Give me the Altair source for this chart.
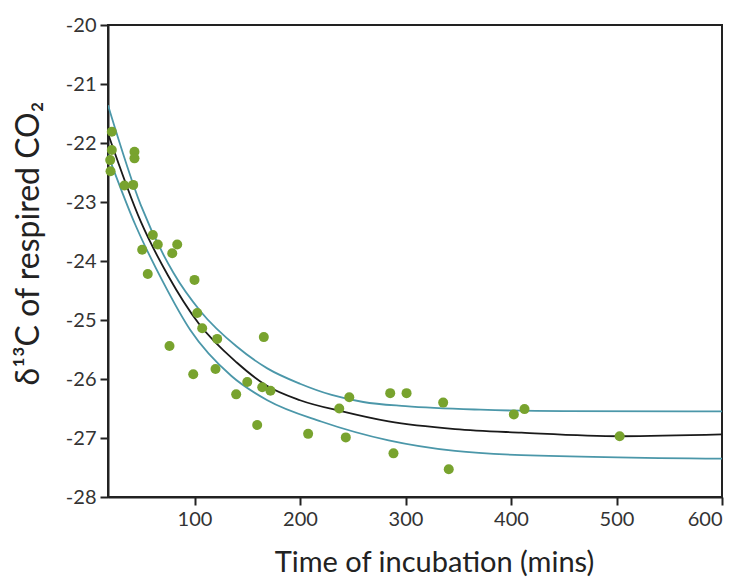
import altair as alt
import pandas as pd

# Observed data points (time in minutes, delta13C)
obs_time = [21.6, 21.6, 20.1, 20.4, 43.1, 43.1, 33.6, 41.9,
            60.5, 65.2, 50.4, 83.6, 78.9, 55.7, 100.0, 102.6, 107.3,
            121.5, 165.7, 119.9, 150.0, 164.2, 172.0, 139.5,
            76.3, 98.8, 159.4, 207.7, 237.2, 246.7, 243.4, 285.5, 288.6,
            301.0, 335.7, 341.0, 402.7, 412.8, 503.0]
obs_d13c = [-21.81, -22.12, -22.29, -22.48, -22.15, -22.26, -22.72, -22.71,
            -23.56, -23.72, -23.81, -23.72, -23.87, -24.22, -24.32, -24.88, -25.14,
            -25.32, -25.29, -25.83, -26.05, -26.14, -26.20, -26.26,
            -25.44, -25.92, -26.78, -26.93, -26.50, -26.31, -26.99, -26.24, -27.26,
            -26.24, -26.40, -27.53, -26.60, -26.51, -26.97]

# Fitted curve (black)
fit_time = [18, 49, 75, 104, 140, 169, 200, 240, 284, 347, 410, 504, 600]
fit_d13c = [-21.84, -23.33, -24.25, -25.06, -25.72, -26.12, -26.36, -26.55,
            -26.72, -26.85, -26.91, -26.97, -26.94]

# Upper confidence band (teal)
upper_time = [18, 49, 80, 106, 140, 169, 200, 230, 260, 300, 371, 450, 600]
upper_d13c = [-21.36, -23.05, -24.20, -24.86, -25.45, -25.82, -26.08, -26.27,
              -26.39, -26.46, -26.52, -26.545, -26.55]

# Lower confidence band (teal)
lower_time = [18, 44, 70, 96, 135, 169, 220, 284, 347, 410, 600]
lower_d13c = [-22.20, -23.39, -24.35, -25.17, -25.95, -26.36, -26.72,
              -27.04, -27.22, -27.29, -27.35]

x_ticks = [100, 200, 300, 400, 500, 600]
y_ticks = [-28, -27, -26, -25, -24, -23, -22, -21, -20]

obs = pd.DataFrame({"t": obs_time, "d": obs_d13c})
curves = pd.concat([
    pd.DataFrame({"t": upper_time, "d": upper_d13c, "curve": "upper"}),
    pd.DataFrame({"t": lower_time, "d": lower_d13c, "curve": "lower"}),
    pd.DataFrame({"t": fit_time, "d": fit_d13c, "curve": "fit"}),
])

FONT = "Lato"
xscale = alt.Scale(domain=[18, 600], nice=False, zero=False)
yscale = alt.Scale(domain=[-28, -20], nice=False, zero=False)

x_enc = alt.X("t:Q", scale=xscale,
              axis=alt.Axis(title="Time of incubation (mins)", values=x_ticks,
                            labelExpr="'' + datum.value",
                            titleFontSize=29,
                            titleX=326, titleY=74, titleBaseline="alphabetic"))
y_enc = alt.Y("d:Q", scale=yscale,
              axis=alt.Axis(title="δ¹³C of respired CO₂", values=y_ticks,
                            labelExpr="'' + datum.value",
                            titleFontSize=32,
                            titleX=-80, titleY=218, titleBaseline="middle"))

lines = alt.Chart(curves).mark_line(strokeWidth=1.8, interpolate="monotone", clip=True).encode(
    x=x_enc, y=y_enc,
    color=alt.Color("curve:N", legend=None,
                    scale=alt.Scale(domain=["upper", "lower", "fit"],
                                    range=["#4b97a9", "#4b97a9", "#1a1a1a"])),
    detail="curve:N",
)

points = alt.Chart(obs).mark_circle(size=100, opacity=1, color="#78a32e").encode(
    x=x_enc, y=y_enc,
)

chart = alt.layer(lines, points).properties(
    width=614, height=472,
    autosize=alt.AutoSizeParams(type="none"),
    padding={"left": 100, "top": 17, "right": 14, "bottom": 80},
).configure_view(
    stroke="#222222", strokeWidth=2
).configure_axis(
    grid=False,
    domainColor="#222222", domainWidth=2,
    tickColor="#222222", tickWidth=2, tickSize=8,
    labelFont=FONT, labelFontSize=20, labelColor="#333333",
    labelPadding=4,
    titleFont=FONT, titleFontWeight="normal", titleColor="#222222",
)

chart.save("out.html", embed_options={"renderer": "svg", "actions": False})
